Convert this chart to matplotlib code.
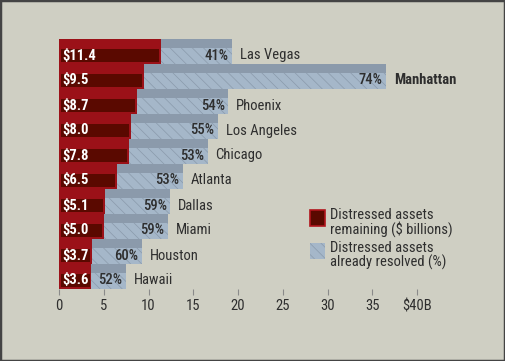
import matplotlib
matplotlib.use("Agg")
import matplotlib.pyplot as plt
from matplotlib.patches import Rectangle

plt.rcParams['font.family'] = ['Roboto Condensed', 'Archivo Narrow', 'DejaVu Sans']
plt.rcParams['hatch.linewidth'] = 0.5

cities = ['Las Vegas', 'Manhattan', 'Phoenix', 'Los Angeles', 'Chicago',
          'Atlanta', 'Dallas', 'Miami', 'Houston', 'Hawaii']
remaining = [11.4, 9.5, 8.7, 8.0, 7.8, 6.5, 5.1, 5.0, 3.7, 3.6]
resolved_pct = [41, 74, 54, 55, 53, 53, 59, 59, 60, 52]
xticks = [0, 5, 10, 15, 20, 25, 30, 35, 40]
xtick_labels = ['0', '5', '10', '15', '20', '25', '30', '35', '$40B']

bg = '#cfcfc3'
red_top = '#9b1118'
maroon = '#5a0900'
slate = '#8b9aab'
light_blue = '#a5b7c9'
hatch_col = '#8a9aab'
text_col = '#2e2e2e'

W, H = 505, 361
fig = plt.figure(figsize=(W / 100, H / 100), dpi=100, facecolor=bg)
# axes: x 0..40 -> px 59..417, y rows px 39..289
ax = fig.add_axes([59 / W, (H - 289) / H, 358 / W, 250 / H])
ax.set_facecolor('none')
ax.set_xlim(0, 40)
ax.set_ylim(250, 0)

pitch = 25
strip = 8.5
px = 40 / 358.0  # data units per pixel

for i, city in enumerate(cities):
    top = i * pitch
    total = remaining[i] / (1 - resolved_pct[i] / 100.0)
    # total distressed bar: slate top strip + hatched body
    ax.add_patch(Rectangle((0, top), total, strip, facecolor=slate, lw=0))
    ax.add_patch(Rectangle((0, top + strip), total, pitch - strip,
                           facecolor=light_blue, edgecolor=hatch_col,
                           hatch='\\\\\\', lw=0))
    # remaining bar: red block with inset maroon box
    ax.add_patch(Rectangle((0, top), remaining[i], pitch, facecolor=red_top, lw=0))
    ax.add_patch(Rectangle((1.8 * px, top + 9.5), remaining[i] - 3.5 * px, 13.5,
                           facecolor=maroon, lw=0))
    yc = top + 16.5
    ax.text(0.4, yc, '$%.1f' % remaining[i], color='white', fontsize=10.5,
            fontweight='bold', va='center', ha='left')
    ax.text(total - 0.4, yc, '%d%%' % resolved_pct[i], color=text_col,
            fontsize=10.5, fontweight='medium', va='center', ha='right')
    ax.text(total + 0.85, yc, city, color=text_col, fontsize=10.5, va='center',
            ha='left', clip_on=False,
            fontweight='bold' if city == 'Manhattan' else 'normal')

for s in ax.spines.values():
    s.set_visible(False)
ax.set_yticks([])
ax.set_xticks(xticks)
ax.set_xticklabels(xtick_labels)
ax.tick_params(axis='x', length=4.5, width=0.8, color='#8a8a8a',
               labelcolor=text_col, labelsize=10.5, pad=3, direction='out')

# legend
fig.patches.append(Rectangle((310 / W, 1 - 226 / H), 15 / W, 16 / H,
                             facecolor=maroon, edgecolor='#b0141c', lw=1.2,
                             transform=fig.transFigure))
fig.patches.append(Rectangle((310 / W, 1 - 259 / H), 15 / W, 16 / H,
                             facecolor=light_blue, edgecolor=hatch_col, lw=0,
                             hatch='\\\\\\', transform=fig.transFigure))
fig.text(330 / W, 1 - 208 / H, 'Distressed assets\nremaining ($ billions)',
         color=text_col, fontsize=10.5, va='top', ha='left', linespacing=0.95)
fig.text(330 / W, 1 - 241 / H, 'Distressed assets\nalready resolved (%)',
         color=text_col, fontsize=10.5, va='top', ha='left', linespacing=0.95)

# outer frame
fig.patches.append(Rectangle((0, 0), 1, 1, facecolor='none', edgecolor='#444444',
                             lw=2.5, transform=fig.transFigure))

fig.savefig('out.png', dpi=100, facecolor=bg)
